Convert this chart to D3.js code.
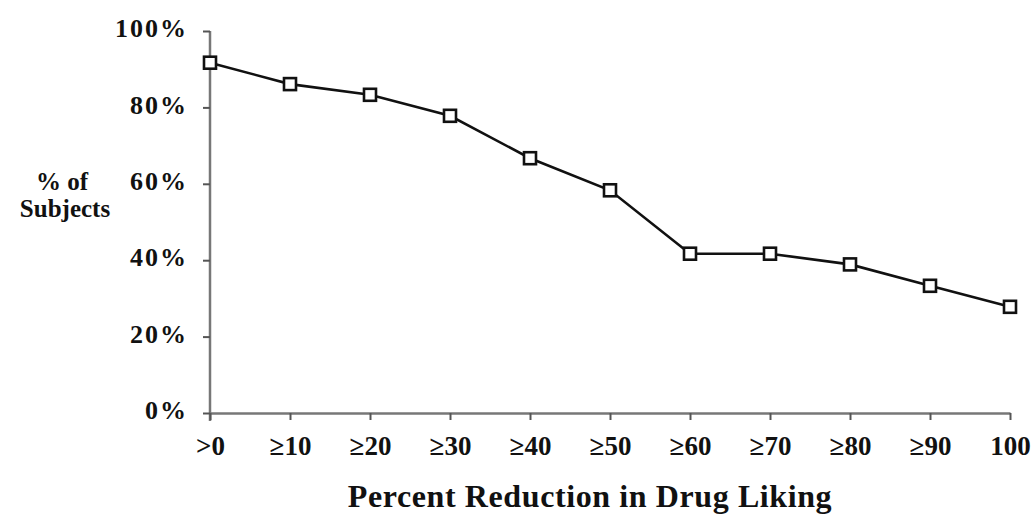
<!DOCTYPE html>
<html>
<head>
<meta charset="utf-8">
<script src="https://cdn.jsdelivr.net/npm/d3@7"></script>
<style>
  body { margin: 0; background: #fff; }
  text { font-family: "Liberation Serif", "Times New Roman", serif; font-weight: bold; fill: #111; }
</style>
</head>
<body>
<svg id="chart" width="1034" height="514"></svg>
<script>
// data
var categories = [">0", "\u226510", "\u226520", "\u226530", "\u226540", "\u226550", "\u226560", "\u226570", "\u226580", "\u226590", "100"];
var percentSubjects = [91.7, 86.1, 83.3, 77.8, 66.7, 58.3, 41.7, 41.7, 38.9, 33.3, 27.8];
var yTicks = [0, 20, 40, 60, 80, 100];

var plotLeft = 210, plotRight = 1010, plotTop = 31, plotBottom = 413;

var svg = d3.select("#chart");

var x = d3.scalePoint()
  .domain(categories)
  .range([plotLeft, plotRight]);

var y = d3.scaleLinear()
  .domain([0, 100])
  .range([plotBottom, plotTop]);

// y axis
var yAxis = svg.append("g")
  .attr("transform", "translate(" + plotLeft + ",0)")
  .call(d3.axisLeft(y).tickValues(yTicks).tickSize(7).tickSizeOuter(0)
    .tickFormat(function(d) { return d + "%"; }));
yAxis.select(".domain").attr("stroke", "#777").attr("stroke-width", 2.5)
  .attr("d", "M0," + plotTop + "V" + (plotBottom + 8));
yAxis.selectAll(".tick line").attr("stroke", "#555").attr("stroke-width", 2);
yAxis.selectAll(".tick text")
  .attr("x", -22)
  .attr("dy", "0.22em")
  .style("font-size", "26px")
  .style("letter-spacing", "2px")
  .style("font-family", "Liberation Serif")
  .style("font-weight", "bold")
  .attr("fill", "#111");

// x axis
var xAxis = svg.append("g")
  .attr("transform", "translate(0," + plotBottom + ")")
  .call(d3.axisBottom(x).tickSize(7).tickSizeOuter(0));
xAxis.select(".domain").attr("stroke", "#777").attr("stroke-width", 2.5);
xAxis.selectAll(".tick line").attr("stroke", "#555").attr("stroke-width", 2);
xAxis.selectAll(".tick text")
  .attr("y", 42)
  .attr("dy", 0)
  .style("font-size", "27px")
  .style("font-family", "Liberation Serif")
  .style("font-weight", "bold")
  .attr("fill", "#111");

// line
var line = d3.line()
  .x(function(d, i) { return x(categories[i]); })
  .y(function(d) { return y(d); });

svg.append("path")
  .datum(percentSubjects)
  .attr("fill", "none")
  .attr("stroke", "#111")
  .attr("stroke-width", 2.6)
  .attr("d", line);

// square markers
svg.selectAll(".marker")
  .data(percentSubjects)
  .enter()
  .append("rect")
  .attr("class", "marker")
  .attr("x", function(d, i) { return x(categories[i]) - 6; })
  .attr("y", function(d) { return y(d) - 6; })
  .attr("width", 12)
  .attr("height", 12)
  .attr("fill", "#fff")
  .attr("stroke", "#111")
  .attr("stroke-width", 2.6);

// axis titles
var yTitle = svg.append("text")
  .attr("text-anchor", "middle")
  .style("font-size", "25px");
yTitle.append("tspan").attr("x", 62).attr("y", 190).text("% of");
yTitle.append("tspan").attr("x", 65).attr("y", 217).text("Subjects");

svg.append("text")
  .attr("x", 590)
  .attr("y", 507)
  .attr("text-anchor", "middle")
  .style("font-size", "32px")
  .style("letter-spacing", "0.6px")
  .text("Percent Reduction in Drug Liking");
</script>
</body>
</html>
